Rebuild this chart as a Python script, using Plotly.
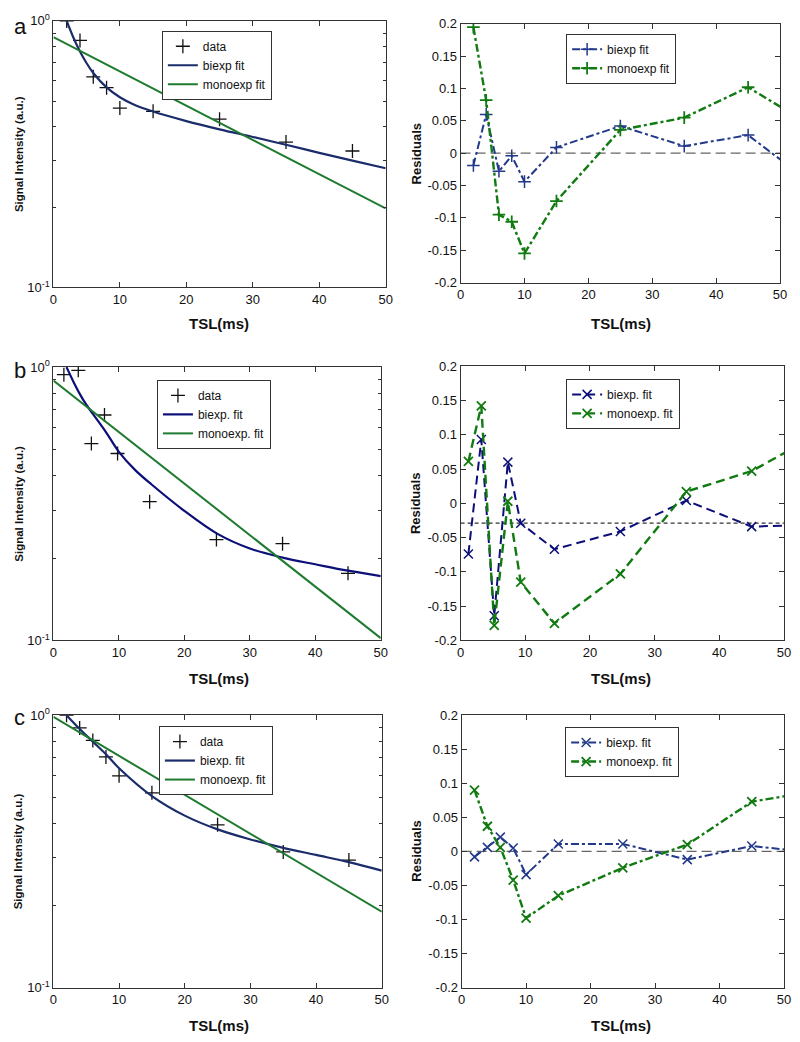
import plotly.graph_objects as go

# ---------------- data ----------------
# Panel a
a_tsl = [2, 4, 6, 8, 10, 15, 25, 35, 45]
a_signal = [1.0, 0.845, 0.617, 0.562, 0.471, 0.458, 0.428, 0.351, 0.325]
a_bi_x = [2, 3, 4, 5, 6, 8, 10, 12, 15, 20, 25, 30, 35, 40, 45, 50]
a_bi_y = [1.0, 0.867, 0.768, 0.694, 0.638, 0.563, 0.517, 0.487, 0.457, 0.421, 0.392, 0.367, 0.343, 0.320, 0.299, 0.280]
a_mono_x = [0, 50]
a_mono_y = [0.869, 0.198]
a_res_x = [2, 4, 6, 8, 10, 15, 25, 35, 45, 55]
a_res_bi = [-0.019, 0.060, -0.028, -0.004, -0.044, 0.009, 0.042, 0.011, 0.028, -0.047]
a_res_mono = [0.195, 0.082, -0.095, -0.106, -0.155, -0.074, 0.036, 0.055, 0.102, 0.042]
a_ref = 0.0

# Panel b
b_tsl = [1.6, 3.8, 5.8, 7.8, 9.8, 14.7, 24.9, 35.0, 45.0]
b_signal = [0.938, 0.973, 0.525, 0.668, 0.483, 0.322, 0.234, 0.226, 0.176]
b_bi_x = [2, 3, 4, 5, 6, 8, 10, 12.5, 15, 20, 25, 30, 35, 40, 45, 50]
b_bi_y = [1.0, 0.89, 0.80, 0.73, 0.676, 0.58, 0.49, 0.42, 0.372, 0.298, 0.246, 0.217, 0.201, 0.190, 0.180, 0.172]
b_mono_x = [0, 50]
b_mono_y = [0.893, 0.102]
b_res_x = [1.2, 3.2, 5.2, 7.3, 9.3, 14.5, 24.7, 34.9, 45.0, 55.0]
b_res_bi = [-0.074, 0.093, -0.164, 0.060, -0.029, -0.067, -0.041, 0.004, -0.034, -0.031]
b_res_mono = [0.061, 0.142, -0.178, 0.003, -0.115, -0.175, -0.103, 0.017, 0.047, 0.099]
b_ref = -0.029

# Panel c
c_tsl = [2, 4, 6, 8, 10, 15, 25, 35, 45]
c_signal = [1.0, 0.898, 0.808, 0.703, 0.599, 0.519, 0.396, 0.315, 0.294]
c_bi_x = [2, 4, 6, 8, 10, 15, 20, 25, 30, 35, 40, 45, 50]
c_bi_y = [1.0, 0.89, 0.80, 0.719, 0.639, 0.505, 0.428, 0.381, 0.350, 0.326, 0.307, 0.289, 0.269]
c_mono_x = [0, 50]
c_mono_y = [0.986, 0.190]
c_res_x = [2, 4, 6, 8, 10, 15, 25, 35, 45, 55]
c_res_bi = [-0.008, 0.006, 0.021, 0.005, -0.034, 0.011, 0.011, -0.012, 0.008, -0.002]
c_res_mono = [0.090, 0.037, 0.006, -0.042, -0.098, -0.065, -0.024, 0.010, 0.073, 0.089]
c_ref = 0.0

log_tickvals = [0.1, 1]
log_ticktext = ["10<sup>-1</sup>", "10<sup>0</sup>"]
log_minor = [0.2, 0.3, 0.4, 0.5, 0.6, 0.7, 0.8, 0.9]
res_tickvals = [0.2, 0.15, 0.1, 0.05, 0, -0.05, -0.1, -0.15, -0.2]
res_ticktext = ["0.2", "0.15", "0.1", "0.05", "0", "-0.05", "-0.1", "-0.15", "-0.2"]
x_tickvals = [0, 10, 20, 30, 40, 50]

# ---------------- styling ----------------
FONT = "Liberation Sans, Arial, Helvetica, sans-serif"
OFF = 8                      # page body margin
VW, VH = 800, 1042           # viewport
W, H = VW - 2 * OFF, VH - 2 * OFF
NAVY_A = "#1b2c6b"
NAVY_B = "#0c0f78"
GREEN_L = "#1d7a2e"
BLUE_R = "#22398a"
GREEN_R = "#117a11"

def fx(px):
    return (px - OFF) / W

def fy(py):
    return 1 - (py - OFF) / H

def dom_x(x0, x1):
    return [fx(x0), fx(x1)]

def dom_y(y0, y1):
    return [fy(y1), fy(y0)]

panels = {
    "a_left": (dom_x(50, 387), dom_y(12, 283)),
    "a_right": (dom_x(463, 787), dom_y(15, 278)),
    "b_left": (dom_x(50, 382), dom_y(364, 642)),
    "b_right": (dom_x(463, 791), dom_y(363, 642)),
    "c_left": (dom_x(50, 383), dom_y(718, 995)),
    "c_right": (dom_x(464, 791), dom_y(718, 995)),
}

fig = go.Figure()

axis_common = dict(showline=True, linecolor="#333", linewidth=1, mirror="ticks",
                   ticks="inside", ticklen=5, tickcolor="#333", showgrid=False,
                   zeroline=False, tickfont=dict(size=13, color="#111", family=FONT))

layout = dict(width=W, height=H, margin=dict(l=0, r=0, t=0, b=0),
              paper_bgcolor="white", plot_bgcolor="white",
              font=dict(family=FONT, color="#111"), showlegend=True)

order = ["a_left", "a_right", "b_left", "b_right", "c_left", "c_right"]
for i, key in enumerate(order):
    n = i + 1
    xd, yd = panels[key]
    xa = dict(axis_common, domain=xd, range=[0, 50], tickvals=x_tickvals,
              anchor="y" if n == 1 else f"y{n}")
    if key.endswith("left"):
        ya = dict(axis_common, domain=yd, type="log", range=[-1, 0],
                  tickvals=log_tickvals, ticktext=log_ticktext,
                  minor=dict(tickvals=log_minor, ticks="inside", ticklen=3, tickcolor="#333"),
                  anchor="x" if n == 1 else f"x{n}")
    else:
        ya = dict(axis_common, domain=yd, range=[-0.2, 0.2],
                  tickvals=res_tickvals, ticktext=res_ticktext,
                  anchor="x" if n == 1 else f"x{n}")
    layout["xaxis" if n == 1 else f"xaxis{n}"] = xa
    layout["yaxis" if n == 1 else f"yaxis{n}"] = ya

def refs(n):
    return ("x" if n == 1 else f"x{n}", "y" if n == 1 else f"y{n}",
            "legend" if n == 1 else f"legend{n}")

def left_panel(n, tsl, sig, bx, by, mx, my, bname, mname, navy):
    xr, yr, lg = refs(n)
    fig.add_trace(go.Scatter(x=tsl, y=sig, mode="markers", name="data",
                             marker=dict(symbol="cross-thin-open", size=10, color="#111",
                                         line=dict(color="#111", width=1.3)),
                             xaxis=xr, yaxis=yr, legend=lg))
    fig.add_trace(go.Scatter(x=bx, y=by, mode="lines", name=bname,
                             line=dict(color=navy, width=2.2, shape="spline"),
                             xaxis=xr, yaxis=yr, legend=lg))
    fig.add_trace(go.Scatter(x=mx, y=my, mode="lines", name=mname,
                             line=dict(color=GREEN_L, width=2),
                             xaxis=xr, yaxis=yr, legend=lg))

def right_panel(n, rx, rb, rm, bname, mname, sym, dash, ref, refdash, refcolor, blue):
    xr, yr, lg = refs(n)
    fig.add_shape(type="line", xref=xr + " domain", yref=yr, x0=0, x1=1, y0=ref, y1=ref,
                  line=dict(color=refcolor, width=1.2, dash=refdash), layer="below")
    fig.add_trace(go.Scatter(x=rx, y=rb, mode="lines+markers", name=bname,
                             line=dict(color=blue, width=2, dash=dash),
                             marker=dict(symbol=sym, size=9, color=blue,
                                         line=dict(color=blue, width=1.5)),
                             xaxis=xr, yaxis=yr, legend=lg))
    fig.add_trace(go.Scatter(x=rx, y=rm, mode="lines+markers", name=mname,
                             line=dict(color=GREEN_R, width=2.4, dash=dash),
                             marker=dict(symbol=sym, size=9, color=GREEN_R,
                                         line=dict(color=GREEN_R, width=1.8)),
                             xaxis=xr, yaxis=yr, legend=lg))

DASHDOT = "8px,3px,3px,3px"
DASH = "9px,5px"
left_panel(1, a_tsl, a_signal, a_bi_x, a_bi_y, a_mono_x, a_mono_y, "biexp fit", "monoexp fit", NAVY_A)
right_panel(2, a_res_x, a_res_bi, a_res_mono, "biexp fit", "monoexp fit", "cross-thin-open",
            DASHDOT, a_ref, "10px,5px", "#666", BLUE_R)
left_panel(3, b_tsl, b_signal, b_bi_x, b_bi_y, b_mono_x, b_mono_y, "biexp. fit", "monoexp. fit", NAVY_B)
right_panel(4, b_res_x, b_res_bi, b_res_mono, "biexp. fit", "monoexp. fit", "x-thin-open",
            DASH, b_ref, "4px,3px", "#333", NAVY_B)
left_panel(5, c_tsl, c_signal, c_bi_x, c_bi_y, c_mono_x, c_mono_y, "biexp. fit", "monoexp. fit", NAVY_A)
right_panel(6, c_res_x, c_res_bi, c_res_mono, "biexp. fit", "monoexp. fit", "x-thin-open",
            DASHDOT, c_ref, "10px,5px", "#666", BLUE_R)

legend_pos = {1: (160, 22), 2: (570, 25), 3: (155, 377), 4: (570, 376), 5: (157, 729), 6: (569, 730)}
for n, (px, py) in legend_pos.items():
    layout["legend" if n == 1 else f"legend{n}"] = dict(
        x=fx(px), y=fy(py), xanchor="left", yanchor="top", bgcolor="white",
        bordercolor="#333", borderwidth=1, font=dict(size=12, family=FONT, color="#111"),
        tracegroupgap=0, itemwidth=30)

ann = []
def add_text(text, px, py, size, angle=0, xanchor="center"):
    ann.append(dict(text=text, x=fx(px), y=fy(py), xref="paper", yref="paper",
                    showarrow=False, textangle=angle, xanchor=xanchor, yanchor="middle",
                    font=dict(size=size, family=FONT, color="#111")))

for yc in (147.5, 503, 856.5):
    add_text("<b>Signal Intensity (a.u.)</b>", 15, yc, 11.5, -90)
    add_text("<b>Residuals</b>", 418, yc, 13, -90)
for yt in (320, 681, 1033):
    add_text("<b>TSL(ms)</b>", 218, yt, 15)
    add_text("<b>TSL(ms)</b>", 626, yt, 15)
add_text("a", 8, 18, 22, xanchor="left")
add_text("b", 8, 367, 22, xanchor="left")
add_text("c", 8, 720, 22, xanchor="left")
layout["annotations"] = ann

fig.update_layout(**layout)
fig.write_html("out.html")
